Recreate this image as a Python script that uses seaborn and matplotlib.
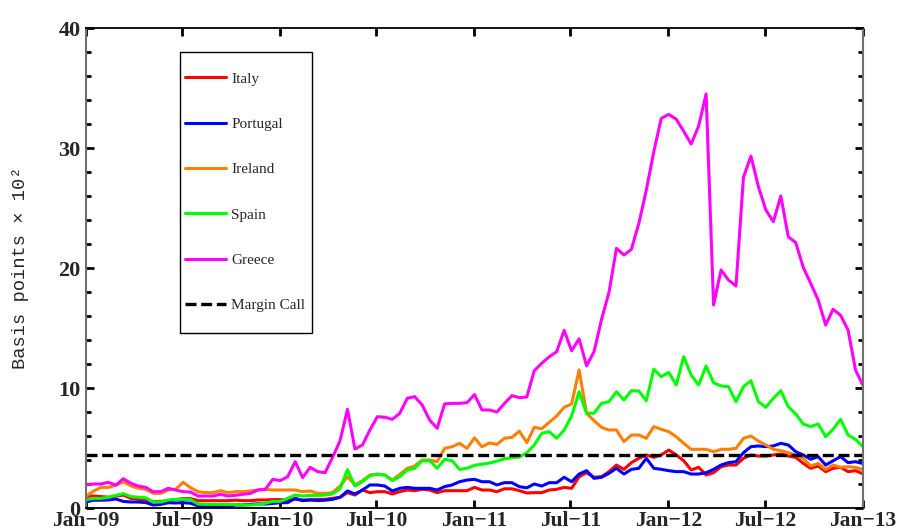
import pandas as pd
import matplotlib
matplotlib.use("Agg")
import matplotlib.pyplot as plt
from matplotlib.ticker import MultipleLocator
from matplotlib.patches import Rectangle
import seaborn as sns

# ============================
# Data (basis points x 10^2, biweekly, Jan-09 .. Jan-13)
# ============================
italy = [
    0.95, 1.0, 0.95, 0.9, 1.0, 1.08, 0.8, 0.72, 0.67, 0.53,
    0.55, 0.6, 0.7, 0.78, 0.78, 0.61, 0.61, 0.61, 0.61, 0.61,
    0.65, 0.61, 0.61, 0.67, 0.67, 0.7, 0.7, 0.67, 0.72, 0.67,
    0.67, 0.72, 0.72, 0.81, 0.89, 1.28, 1.08, 1.5, 1.28, 1.36,
    1.36, 1.17, 1.36, 1.5, 1.44, 1.56, 1.5, 1.28, 1.44, 1.44,
    1.44, 1.44, 1.72, 1.5, 1.5, 1.36, 1.6, 1.6, 1.45, 1.25,
    1.28, 1.28, 1.5, 1.56, 1.72, 1.64, 2.61, 2.94, 2.56, 2.61,
    3.03, 3.58, 3.22, 3.78, 4.14, 4.42, 4.22, 4.42, 4.83, 4.42,
    3.94, 3.17, 3.39, 2.75, 2.94, 3.44, 3.58, 3.58, 4.14, 4.42,
    4.33, 4.33, 4.42, 4.5, 4.33, 4.22, 3.72, 3.31, 3.5, 3.03,
    3.31, 3.39, 3.03, 3.11, 2.85,
]
portugal = [
    0.5, 0.65, 0.65, 0.67, 0.75, 0.55, 0.5, 0.5, 0.45, 0.25,
    0.3, 0.44, 0.42, 0.44, 0.4, 0.17, 0.12, 0.12, 0.15, 0.15,
    0.25, 0.25, 0.3, 0.35, 0.33, 0.38, 0.44, 0.45, 0.81, 0.61,
    0.67, 0.62, 0.65, 0.72, 0.89, 1.42, 1.17, 1.5, 1.92, 1.92,
    1.83, 1.42, 1.64, 1.72, 1.64, 1.64, 1.64, 1.5, 1.78, 1.92,
    2.19, 2.33, 2.39, 2.19, 2.19, 1.92, 2.11, 2.11, 1.78, 1.68,
    2.0, 1.83, 2.11, 2.11, 2.56, 2.19, 2.83, 3.11, 2.47, 2.56,
    2.89, 3.31, 2.83, 3.22, 3.31, 4.14, 3.31, 3.22, 3.11, 3.03,
    3.03, 2.83, 2.83, 2.94, 3.22, 3.58, 3.78, 3.86, 4.61, 5.11,
    5.17, 5.11, 5.17, 5.39, 5.25, 4.69, 4.42, 4.06, 4.28, 3.58,
    3.94, 4.28, 3.78, 3.86, 3.7,
]
ireland = [
    1.0, 1.4, 1.72, 1.72, 1.9, 2.19, 1.85, 1.64, 1.56, 1.22,
    1.22, 1.5, 1.56, 2.14, 1.69, 1.36, 1.28, 1.28, 1.44, 1.28,
    1.36, 1.36, 1.42, 1.5, 1.56, 1.5, 1.5, 1.5, 1.5, 1.36,
    1.42, 1.22, 1.22, 1.28, 1.83, 2.61, 1.92, 2.28, 2.75, 2.8,
    2.75, 2.33, 2.8, 3.31, 3.5, 4.0, 4.0, 3.86, 4.97, 5.11,
    5.39, 4.97, 5.85, 5.1, 5.42, 5.3, 5.81, 5.88, 6.4, 5.45,
    6.72, 6.61, 7.14, 7.67, 8.39, 8.67, 11.5, 7.89, 7.28, 6.72,
    6.5, 6.5, 5.53, 6.08, 6.08, 5.81, 6.78, 6.56, 6.36, 5.94,
    5.39, 4.89, 4.89, 4.89, 4.69, 4.89, 4.89, 4.97, 5.81, 6.0,
    5.58, 5.25, 4.89, 4.78, 4.61, 4.42, 4.14, 3.5, 3.72, 3.22,
    3.58, 3.39, 3.44, 3.39, 3.2,
]
spain = [
    0.7, 0.8, 0.8, 0.9, 1.05, 1.2, 0.95, 0.9, 0.85, 0.5,
    0.5, 0.67, 0.72, 0.72, 0.7, 0.33, 0.3, 0.3, 0.3, 0.3,
    0.3, 0.25, 0.25, 0.3, 0.4, 0.55, 0.55, 0.81, 1.08, 1.0,
    1.05, 1.05, 1.08, 1.17, 1.6, 3.2, 1.83, 2.19, 2.69, 2.83,
    2.75, 2.28, 2.61, 3.17, 3.31, 3.94, 3.94, 3.31, 4.06, 3.94,
    3.22, 3.31, 3.55, 3.65, 3.75, 3.9, 4.1, 4.2, 4.25, 4.6,
    5.25, 6.22, 6.36, 5.81, 6.5, 7.67, 9.69, 7.9, 7.9, 8.72,
    8.86, 9.69, 9.0, 9.78, 9.75, 8.94, 11.56, 10.94, 11.3, 10.25,
    12.61, 11.08, 10.25, 11.83, 10.44, 10.17, 10.11, 8.86, 10.11, 10.61,
    8.86, 8.39, 9.14, 9.78, 8.44, 7.83, 7.0, 6.78, 7.0, 5.94,
    6.56, 7.39, 6.08, 5.72, 5.1,
]
greece = [
    1.95, 2.0, 2.0, 2.14, 1.9, 2.44, 2.06, 1.83, 1.72, 1.36,
    1.36, 1.64, 1.5, 1.36, 1.33, 1.0, 1.0, 1.0, 1.14, 1.0,
    1.06, 1.14, 1.22, 1.5, 1.56, 2.39, 2.28, 2.61, 3.86, 2.53,
    3.39, 3.03, 2.94, 4.22, 5.6, 8.22, 4.92, 5.25, 6.5, 7.61,
    7.56, 7.39, 7.89, 9.14, 9.28, 8.58, 7.33, 6.64, 8.67, 8.72,
    8.72, 8.78, 9.45, 8.17, 8.17, 8.0, 8.7, 9.36, 9.2, 9.25,
    11.44, 12.06, 12.6, 13.03, 14.8, 13.1, 14.1, 11.85, 13.03, 15.7,
    17.97, 21.64, 21.08, 21.56, 23.72, 26.5, 29.7, 32.47, 32.8, 32.4,
    31.4, 30.33, 31.83, 34.5, 16.92, 19.83, 19.0, 18.5, 27.56, 29.33,
    26.78, 24.83, 23.86, 26.0, 22.61, 22.11, 20.06, 18.72, 17.33, 15.25,
    16.56, 16.06, 14.83, 11.5, 10.2,
]
margin_call = 4.45

countries = ["Italy", "Portugal", "Ireland", "Spain", "Greece"]
series = [italy, portugal, ireland, spain, greece]
colors = ["#ff0000", "#0000ff", "#ff8000", "#00ff00", "#ff00ff"]

tick_labels = ["Jan−09", "Jul−09", "Jan−10", "Jul−10", "Jan−11",
               "Jul−11", "Jan−12", "Jul−12", "Jan−13"]

dates = pd.date_range("2009-01-01", "2013-01-01", periods=len(greece))
tick_dates = pd.date_range("2009-01-01", "2013-01-01", freq="6MS")

# ============================
# Style
# ============================
sns.set_style("ticks")
plt.rcParams["font.family"] = ["Liberation Serif", "DejaVu Serif"]

fig = plt.figure(figsize=(9.01, 5.29), dpi=100)
ax = fig.add_axes([86 / 901, 1 - 508 / 529, 777 / 901, 480 / 529])

for name, vals, c in zip(countries, series, colors):
    sns.lineplot(x=dates, y=vals, color=c, linewidth=2.2, label=name, ax=ax)

ax.axhline(margin_call, color="black", linewidth=2.4, dashes=(3.3, 1.4),
           label="Margin Call")

ax.set_xlim(dates[0], dates[-1])
ax.set_ylim(0, 40)
ax.set_xticks(tick_dates)
ax.set_xticklabels(tick_labels)
ax.yaxis.set_major_locator(MultipleLocator(10))
ax.yaxis.set_minor_locator(MultipleLocator(2))

ax.tick_params(which="major", direction="in", length=6, width=2,
               top=True, right=True, color="black")
ax.tick_params(axis="y", which="major", labelsize=16, pad=4)
ax.tick_params(axis="x", which="major", labelsize=15.5, pad=2)
ax.tick_params(which="minor", direction="in", length=3.5, width=2,
               left=True, right=True, color="black")
for lab in ax.get_xticklabels() + ax.get_yticklabels():
    lab.set_fontweight("bold")

for side in ["top", "bottom"]:
    ax.spines[side].set_color("black")
    ax.spines[side].set_linewidth(1.3)
for side in ["left", "right"]:
    ax.spines[side].set_color("#707070")
    ax.spines[side].set_linewidth(1.5)

ax.set_xlabel("")
ax.set_ylabel("Basis points × 10²", family=["Liberation Mono", "DejaVu Sans Mono"],
              fontsize=13.5)
ax.yaxis.set_label_coords(-0.073, 0.5)

# Legend (frame drawn as a box in axes coordinates)
handles, labels = ax.get_legend_handles_labels()
leg = ax.legend(handles, labels, loc="upper left",
                bbox_to_anchor=((185 - 86) / 777, (508 - 72) / 480),
                borderaxespad=0, borderpad=0, frameon=False, fontsize=11,
                labelspacing=2.07, handlelength=2.68, handletextpad=0.35)
ax.add_patch(Rectangle(((180 - 86) / 777, (508 - 333) / 480),
                       132 / 777, 281 / 480, transform=ax.transAxes,
                       fill=False, edgecolor="black", linewidth=1.0, zorder=5))

fig.savefig("out.png", dpi=100)
